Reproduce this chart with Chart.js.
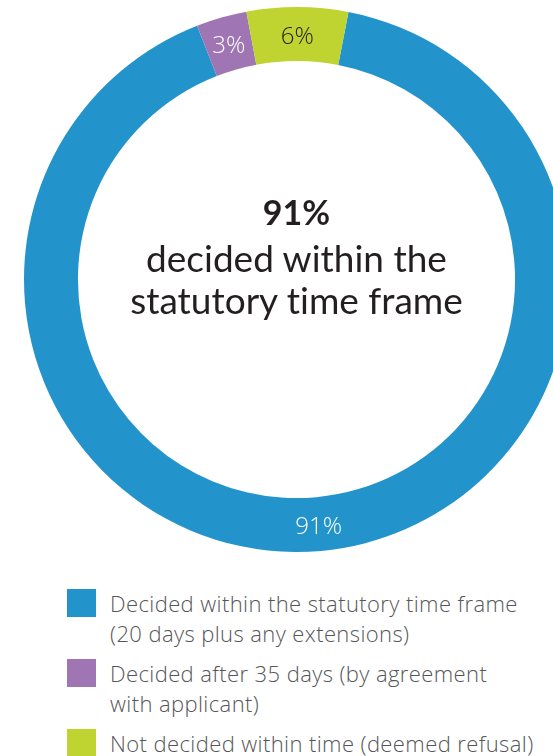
<!DOCTYPE html>
<html>
<head>
<meta charset="utf-8">
<script src="https://cdn.jsdelivr.net/npm/chart.js@4.4.1/dist/chart.umd.min.js"></script>
<style>
    html, body {
        margin: 0;
        padding: 0;
        width: 553px;
        height: 756px;
        overflow: hidden;
        background: #fff;
    }
    #wrap {
        position: relative;
        width: 553px;
        height: 756px;
        overflow: hidden;
    }
    #timeChart {
        position: absolute;
        left: 0;
        top: 0;
    }
    .centre {
        position: absolute;
        left: 0;
        top: 188px;
        width: 593px;
        text-align: center;
        color: #231f20;
        font-family: Lato, sans-serif;
        font-variant-ligatures: none;
    }
    .centre .big {
        font-weight: bold;
        font-size: 34px;
        line-height: 47px;
    }
    .centre .sub {
        margin-top: 2px;
        font-weight: 400;
        font-size: 37px;
        line-height: 42px;
    }
    .legend {
        position: absolute;
        left: 67px;
        top: 588px;
        margin: 0;
        padding: 0;
        list-style: none;
        font-family: 'Open Sans', Arial, sans-serif;
        font-weight: 300;
        font-size: 22px;
        letter-spacing: 0.4px;
        line-height: 30px;
        color: #555659;
    }
    .legend li {
        display: flex;
        align-items: flex-start;
        margin-bottom: 10px;
    }
    .legend .swatch {
        flex: 0 0 29px;
        height: 28px;
        margin-top: 1px;
        margin-right: 14px;
    }
</style>
</head>
<body>
<div id="wrap">
    <canvas id="timeChart" width="593" height="560"></canvas>
    <div class="centre" id="centre"></div>
    <ul class="legend" id="legend"></ul>
</div>

<script>
// ── DATA ─────────────────────────────────────────────────────
const categories = [
    'Decided within the statutory time frame\n(20 days plus any extensions)',
    'Decided after 35 days (by agreement\nwith applicant)',
    'Not decided within time (deemed refusal)'
];
const shares      = [91, 3, 6];
const sliceColors = ['#2394cb', '#9f75b3', '#bfd431'];
const labelColors = ['#ffffff', '#ffffff', '#231f20'];

const headline    = '91%';
const headlineSub = ['decided within the', 'statutory time frame'];

// ── PLUGINS ──────────────────────────────────────────────────
// Percentage written in the middle of each ring segment
const sliceLabels = {
    id: 'sliceLabels',
    afterDatasetsDraw(chart) {
        const { ctx } = chart;
        const meta = chart.getDatasetMeta(0);
        ctx.save();
        ctx.font = '300 24px "Open Sans", Arial, sans-serif';
        ctx.textAlign = 'center';
        ctx.textBaseline = 'middle';
        meta.data.forEach((arc, i) => {
            const p = arc.tooltipPosition();
            ctx.fillStyle = labelColors[i];
            ctx.fillText(shares[i] + '%', p.x, p.y + 3);
        });
        ctx.restore();
    }
};

// ── CHART ────────────────────────────────────────────────────
new Chart(document.getElementById('timeChart'), {
    type: 'doughnut',
    data: {
        labels: categories,
        datasets: [{
            data: shares,
            backgroundColor: sliceColors,
            borderWidth: 0
        }]
    },
    options: {
        responsive: false,
        animation: false,
        cutout: '80.2%',
        rotation: 11,
        layout: { padding: { left: 24, right: 24, top: 7, bottom: 8 } },
        plugins: {
            legend:  { display: false },
            tooltip: { enabled: false }
        }
    },
    plugins: [sliceLabels]
});

// ── CENTRE TEXT ──────────────────────────────────────────────
const centreEl = document.getElementById('centre');
centreEl.innerHTML =
    `<div class="big">${headline}</div>` +
    `<div class="sub">${headlineSub.join('<br>')}</div>`;

// ── LEGEND ───────────────────────────────────────────────────
const legendEl = document.getElementById('legend');
categories.forEach((name, i) => {
    const li = document.createElement('li');
    const sw = document.createElement('span');
    sw.className = 'swatch';
    sw.style.background = sliceColors[i];
    const txt = document.createElement('span');
    txt.innerHTML = name.replace('\n', '<br>');
    li.appendChild(sw);
    li.appendChild(txt);
    legendEl.appendChild(li);
});
</script>
</body>
</html>
